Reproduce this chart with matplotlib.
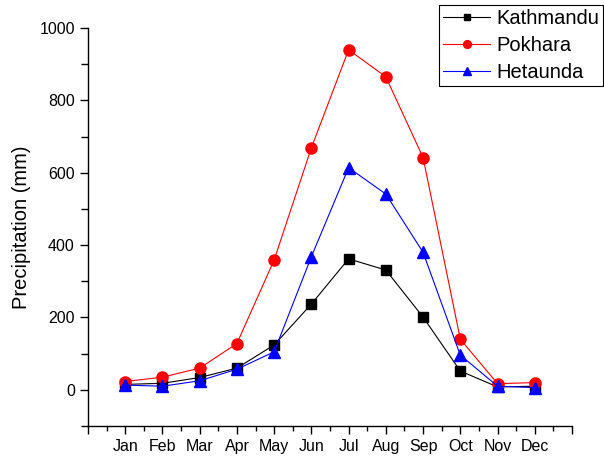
import matplotlib
matplotlib.use("Agg")
import matplotlib.pyplot as plt
from matplotlib.ticker import MultipleLocator, FixedLocator

plt.rcParams['font.family'] = ['Liberation Sans', 'DejaVu Sans']

months = ['Jan', 'Feb', 'Mar', 'Apr', 'May', 'Jun',
          'Jul', 'Aug', 'Sep', 'Oct', 'Nov', 'Dec']
kathmandu = [15, 18, 34, 60, 124, 237, 362, 331, 201, 52, 8, 10]
pokhara = [23, 35, 60, 128, 359, 669, 940, 865, 642, 140, 17, 20]
hetaunda = [13, 10, 25, 57, 105, 368, 614, 541, 380, 96, 10, 6]

x = list(range(1, len(months) + 1))

fig = plt.figure(figsize=(6.04, 4.63), dpi=100)
ax = fig.add_axes([0.1457, 0.0799, 0.8013, 0.8596])

ax.plot(x, kathmandu, color='black', lw=0.8, marker='s', ms=6.5, label='Kathmandu')
ax.plot(x, pokhara, color='red', lw=0.8, marker='o', ms=8, label='Pokhara')
ax.plot(x, hetaunda, color='blue', lw=0.8, marker='^', ms=8, label='Hetaunda')

ax.set_xlim(0, 13)
ax.set_ylim(-100, 1000)
ax.xaxis.set_major_locator(FixedLocator(range(0, 14)))
ax.set_xticklabels([''] + months + [''])
ax.xaxis.set_minor_locator(MultipleLocator(0.5))
ax.yaxis.set_major_locator(FixedLocator([0, 200, 400, 600, 800, 1000]))
ax.yaxis.set_minor_locator(MultipleLocator(100))

ax.tick_params(which='both', direction='out', width=1, labelsize=11.5, color='black')
ax.tick_params(which='major', length=6)
ax.tick_params(which='minor', length=3.5)
ax.tick_params(axis='y', which='minor', length=5)

for side in ['top', 'right']:
    ax.spines[side].set_visible(False)
for side in ['left', 'bottom']:
    ax.spines[side].set_linewidth(1)

ax.set_ylabel('Precipitation (mm)', fontsize=14.5, labelpad=6)

# legend box runs off the right edge like the original
leg = fig.legend(loc='upper left', bbox_to_anchor=(439 / 604, 1 - 5 / 463),
                 fontsize=14.5, frameon=True, fancybox=False, edgecolor='black',
                 framealpha=1, borderpad=0.2, labelspacing=0.4,
                 handlelength=2.35, handletextpad=0.3, borderaxespad=0,
                 markerscale=0.7)
leg.get_frame().set_linewidth(0.8)

fig.savefig('out.png', dpi=100)
